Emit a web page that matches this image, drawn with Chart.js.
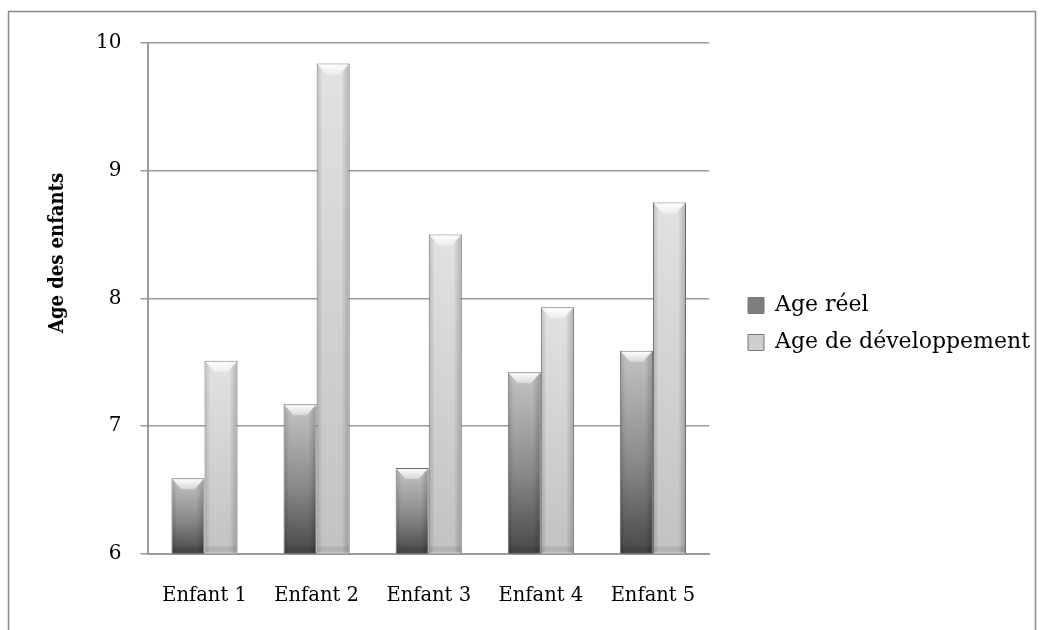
<!DOCTYPE html>
<html>
<head>
<meta charset="utf-8">
<script src="https://cdn.jsdelivr.net/npm/chart.js@4"></script>
<style>
  html, body { margin: 0; padding: 0; background: #fff; }
  #wrap { width: 1044px; height: 630px; }
</style>
</head>
<body>
<div id="wrap"><canvas id="chart" width="1044" height="630"></canvas></div>
<script>
/* ============================
   Données
============================ */
const enfants = ["Enfant 1", "Enfant 2", "Enfant 3", "Enfant 4", "Enfant 5"];
const ageReel = [6.59, 7.17, 6.67, 7.42, 7.59];
const ageDev = [7.51, 9.84, 8.5, 7.93, 8.75];
const yMin = 6, yMax = 10;

const FONT = "'DejaVu Serif', serif";
const LEGEND_SHIFT = 24;
const LEGEND_UP = 13;

/* ============================
   Dégradés
============================ */
const gradReel = (c) => {
    const { chart } = c;
    if (!chart.chartArea) return "#888";
    const y = chart.scales.y;
    const top = y.getPixelForValue(c.raw), bot = y.getPixelForValue(yMin);
    const g = chart.ctx.createLinearGradient(0, bot, 0, top);
    g.addColorStop(0, "#484848");
    g.addColorStop(0.45, "#8a8a8a");
    g.addColorStop(1, "#c4c4c4");
    return g;
};
const gradDev = (c) => {
    const { chart } = c;
    if (!chart.chartArea) return "#d0d0d0";
    const y = chart.scales.y;
    const top = y.getPixelForValue(c.raw), bot = y.getPixelForValue(yMin);
    const g = chart.ctx.createLinearGradient(0, bot, 0, top);
    g.addColorStop(0, "#c2c2c2");
    g.addColorStop(1, "#e2e2e2");
    return g;
};

/* ============================
   Plugins
============================ */
const cadre = {
    id: "cadre",
    afterLayout(chart) {
        // décale la légende, la zone du graphique reste en place
        const lg = chart.legend;
        lg.left += LEGEND_SHIFT;
        lg.right += LEGEND_SHIFT;
        lg.top -= LEGEND_UP;
        lg.bottom -= LEGEND_UP;
    },
    beforeDraw(chart) {
        const ctx = chart.ctx;
        ctx.save();
        ctx.fillStyle = "#fff";
        ctx.fillRect(0, 0, chart.width, chart.height);
        ctx.strokeStyle = "#8a8a8a";
        ctx.lineWidth = 1.5;
        ctx.strokeRect(8.5, 11.5, 1027, 640);
        ctx.restore();
    },
    afterDraw(chart) {
        const ctx = chart.ctx;
        ctx.save();
        ctx.translate(58, 253);
        ctx.rotate(-Math.PI / 2);
        ctx.font = "bold 20px 'DejaVu Serif Condensed', 'DejaVu Serif', serif";
        ctx.fillStyle = "#000";
        ctx.textAlign = "center";
        ctx.textBaseline = "middle";
        ctx.fillText("Age des enfants", 0, 0);
        ctx.restore();
    }
};

// relief : bords assombris + biseau clair en haut de chaque barre
const biseau = {
    id: "biseau",
    afterDatasetsDraw(chart) {
        const ctx = chart.ctx;
        const b = chart.scales.y.getPixelForValue(yMin);
        chart.data.datasets.forEach((ds, i) => {
            chart.getDatasetMeta(i).data.forEach((bar) => {
                const l = bar.x - bar.width / 2, r = bar.x + bar.width / 2, t = bar.y;
                ctx.save();
                const h = ctx.createLinearGradient(l, 0, r, 0);
                h.addColorStop(0, "rgba(0,0,0,0.16)");
                h.addColorStop(0.18, "rgba(0,0,0,0)");
                h.addColorStop(0.75, "rgba(0,0,0,0)");
                h.addColorStop(1, "rgba(0,0,0,0.22)");
                ctx.fillStyle = h;
                ctx.fillRect(l + 1, t + 1, r - l - 2, b - t - 2);

                const d = bar.width * 0.3;
                const g = ctx.createLinearGradient(0, t, 0, t + 11);
                g.addColorStop(0, "rgba(255,255,255,1)");
                g.addColorStop(1, "rgba(255,255,255,0.4)");
                ctx.beginPath();
                ctx.moveTo(l + 1, t + 1);
                ctx.lineTo(r - 1, t + 1);
                ctx.lineTo(r - d, t + 11);
                ctx.lineTo(l + d, t + 11);
                ctx.closePath();
                ctx.fillStyle = g;
                ctx.fill();

                ctx.fillStyle = "rgba(0,0,0,0.08)";
                ctx.fillRect(l + 1, b - 7, r - l - 2, 5);
                ctx.restore();
            });
        });
    }
};

/* ============================
   Graphique
============================ */
new Chart(document.getElementById("chart"), {
    type: "bar",
    data: {
        labels: enfants,
        datasets: [
            { label: "Age réel", data: ageReel, backgroundColor: gradReel, borderColor: "#6a6a6a", borderWidth: 1 },
            { label: "Age de développement", data: ageDev, backgroundColor: gradDev, borderColor: "#6a6a6a", borderWidth: 1 }
        ]
    },
    options: {
        responsive: false,
        animation: false,
        layout: { padding: { left: 77, top: 43, right: 28, bottom: -1 } },
        datasets: { bar: { barPercentage: 1, categoryPercentage: 0.59 } },
        plugins: {
            tooltip: { enabled: false },
            legend: {
                position: "right",
                maxWidth: 400,
                labels: {
                    font: { family: FONT, size: 22 },
                    color: "#000",
                    boxWidth: 16,
                    boxHeight: 16,
                    padding: 15,
                    generateLabels: (chart) => chart.data.datasets.map((ds, i) => ({
                        text: ds.label,
                        fillStyle: i === 0 ? "#7e7e7e" : "#cfcfcf",
                        strokeStyle: "#777",
                        lineWidth: 1,
                        datasetIndex: i
                    }))
                }
            }
        },
        scales: {
            x: {
                grid: { display: false },
                border: { color: "#9a9a9a", width: 2 },
                ticks: { font: { family: FONT, size: 19.5 }, color: "#000", padding: 23 }
            },
            y: {
                min: yMin,
                max: yMax,
                ticks: { stepSize: 1, font: { family: FONT, size: 20 }, color: "#000", padding: 19 },
                grid: { color: "#9a9a9a", lineWidth: 1.5, tickLength: 8 },
                border: { color: "#9a9a9a", width: 2 }
            }
        }
    },
    plugins: [cadre, biseau]
});
</script>
</body>
</html>
